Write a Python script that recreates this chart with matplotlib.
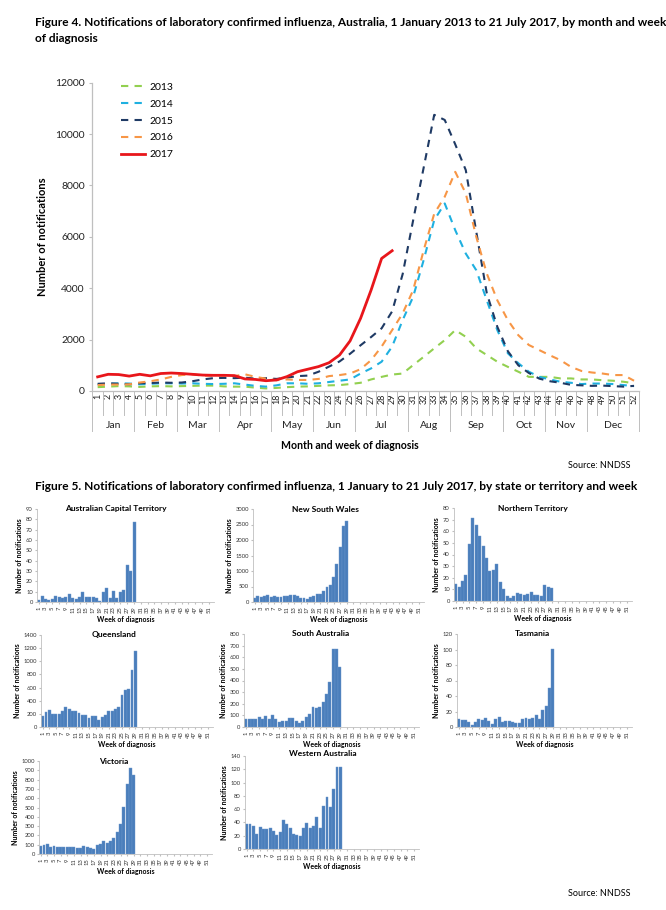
import matplotlib
matplotlib.use('Agg')
import matplotlib.pyplot as plt
import matplotlib.transforms as mtransforms
import numpy as np

plt.rcParams['font.family'] = ['Lato', 'DejaVu Sans']

# ---------------- Figure 4 data ----------------
weeks = np.arange(1, 53)
months = ['Jan', 'Feb', 'Mar', 'Apr', 'May', 'Jun', 'Jul', 'Aug', 'Sep', 'Oct', 'Nov', 'Dec']
weeks_in_month = [4, 4, 4, 5, 4, 4, 5, 4, 5, 4, 4, 5]

y2013 = [150, 170, 190, 180, 160, 180, 190, 180, 190, 200, 210, 210, 180, 170, 170, 130, 100, 120,
         150, 170, 180, 200, 220, 230, 270, 320, 450, 550, 640, 680, 1010, 1330, 1660, 1980, 2370, 2110,
         1660, 1400, 1140, 940, 750, 550, 550, 550, 490, 490, 450, 450, 420, 400, 360, 300]
y2014 = [250, 280, 300, 290, 260, 280, 300, 300, 290, 300, 280, 270, 280, 300, 250, 200, 170, 220,
         300, 300, 280, 300, 350, 400, 450, 680, 880, 1140, 1730, 2760, 3670, 5100, 6650, 7300, 6260, 5350,
         4700, 3530, 2370, 1470, 1080, 750, 550, 450, 360, 320, 270, 290, 290, 270, 230, 190]
y2015 = [280, 300, 280, 260, 300, 310, 330, 320, 330, 380, 450, 500, 510, 500, 520, 480, 500, 470,
         520, 580, 600, 750, 950, 1150, 1450, 1780, 2100, 2440, 3100, 4550, 6650, 8700, 10750, 10550, 9600, 8600,
         6200, 3800, 2500, 1550, 1000, 700, 480, 380, 320, 240, 220, 200, 210, 190, 170, 200]
y2016 = [230, 250, 250, 260, 330, 380, 450, 550, 620, 650, 600, 600, 600, 580, 650, 550, 480, 420,
         450, 430, 430, 470, 580, 620, 680, 850, 1200, 1730, 2370, 3020, 3930, 5480, 6900, 7560, 8530, 7690,
         6000, 4570, 3530, 2760, 2170, 1790, 1590, 1390, 1200, 940, 780, 720, 680, 620, 620, 400]
y2017 = [550, 650, 640, 580, 650, 590, 680, 700, 680, 650, 620, 610, 610, 600, 470, 450, 400, 430,
         560, 750, 850, 950, 1100, 1400, 1950, 2830, 3930, 5160, 5460]

# ---------------- Figure 5 data ----------------
states = ['Australian Capital Territory', 'New South Wales', 'Northern Territory',
          'Queensland', 'South Australia', 'Tasmania', 'Victoria', 'Western Australia']
state_counts = {
    'Australian Capital Territory': [2, 6, 3, 2, 3, 6, 5, 4, 5, 8, 4, 3, 5, 10, 5, 5, 5, 4, 1, 10,
                                     14, 4, 11, 4, 10, 12, 36, 30, 77],
    'New South Wales': [120, 180, 170, 200, 220, 150, 180, 175, 150, 190, 190, 220, 240, 180, 130, 120,
                        110, 160, 180, 260, 260, 350, 500, 560, 820, 1210, 1780, 2450, 2620],
    'Northern Territory': [15, 12, 17, 22, 49, 71, 65, 56, 47, 37, 26, 27, 32, 16, 10, 4, 3, 4, 7, 6,
                           5, 6, 8, 5, 5, 4, 14, 12, 11],
    'Queensland': [160, 230, 260, 200, 195, 200, 250, 300, 270, 245, 245, 210, 180, 180, 135, 170, 160,
                   110, 155, 180, 245, 250, 275, 310, 490, 560, 580, 860, 1150],
    'South Australia': [65, 72, 68, 65, 85, 65, 95, 70, 105, 65, 45, 55, 55, 80, 75, 50, 35, 55, 90,
                        110, 170, 160, 170, 215, 285, 390, 670, 670, 520],
    'Tasmania': [10, 9, 9, 7, 2, 6, 10, 9, 11, 8, 4, 10, 13, 7, 8, 8, 7, 5, 5, 10, 11, 10, 12, 15, 10,
                 22, 27, 50, 101],
    'Victoria': [85, 100, 110, 75, 90, 75, 70, 75, 80, 75, 70, 60, 65, 85, 80, 65, 55, 100, 110, 145,
                 120, 135, 170, 240, 320, 510, 750, 930, 845],
    'Western Australia': [38, 37, 35, 23, 33, 30, 30, 32, 27, 21, 25, 44, 38, 31, 22, 21, 19, 32, 39,
                          31, 35, 48, 31, 65, 79, 63, 91, 123, 123],
}
state_ymax = [90, 3000, 80, 1400, 800, 120, 1000, 140]
state_ystep = [10, 500, 10, 200, 100, 20, 100, 20]

W, H = 666, 910
fig = plt.figure(figsize=(W / 100, H / 100), dpi=100)


def px_axes(left, top, right, bottom):
    return fig.add_axes([left / W, 1 - bottom / H, (right - left) / W, (bottom - top) / H])


def fx(x):
    return x / W


def fy(y):
    return 1 - y / H


grey = '#bfbfbf'

# ---------------- Figure 4 ----------------
fig.text(fx(35), fy(22), 'Figure 4. Notifications of laboratory confirmed influenza, Australia, 1 January 2013 to 21 July 2017, by month and week',
         fontsize=8.6, fontweight='bold', va='center')
fig.text(fx(35), fy(39), 'of diagnosis', fontsize=8.6, fontweight='bold', va='center')

ax = px_axes(92.4, 82.7, 639.3, 391)
series = [('2013', y2013, '#92d050'), ('2014', y2014, '#1fb0e0'), ('2015', y2015, '#1f3a64'),
          ('2016', y2016, '#f79646')]
for name, vals, col in series:
    ax.plot(weeks[:len(vals)], vals, color=col, lw=1.5, dashes=(3.5, 3), label=name)
ax.plot(weeks[:len(y2017)], y2017, color='#e8161b', lw=2.0, label='2017')

ax.set_xlim(0.5, 52.5)
ax.set_ylim(0, 12000)
ax.set_yticks(np.arange(0, 12001, 2000))
ax.tick_params(axis='y', labelsize=7.5, length=2.5, color=grey, pad=3, labelcolor='#222222')
ax.set_xticks(weeks)
ax.set_xticklabels([str(w) for w in weeks], rotation=90, fontsize=6.5, color='#222222')
ax.tick_params(axis='x', length=0, pad=2)
for s in ['top', 'right']:
    ax.spines[s].set_visible(False)
for s in ['left', 'bottom']:
    ax.spines[s].set_color(grey)
    ax.spines[s].set_linewidth(0.9)

# two level category axis: week separators, month separators and month names
trans = mtransforms.blended_transform_factory(ax.transData, ax.transAxes)
axh = 391 - 82.7
for b in np.arange(0.5, 53, 1.0):
    ax.plot([b, b], [0, -24 / axh], transform=trans, color=grey, lw=0.7, clip_on=False)
bounds = np.concatenate([[0], np.cumsum(weeks_in_month)]) + 0.5
for b in bounds:
    ax.plot([b, b], [0, -40 / axh], transform=trans, color=grey, lw=0.7, clip_on=False)
for i, m in enumerate(months):
    ax.text((bounds[i] + bounds[i + 1]) / 2, -34 / axh, m, transform=trans, ha='center', va='center',
            fontsize=7.5, color='#222222')

ax.set_ylabel('Number of notifications', fontsize=8, fontweight='bold', labelpad=5)
fig.text(fx(350), fy(445), 'Month and week of diagnosis', fontsize=7.6, fontweight='bold', ha='center', va='center')
fig.text(fx(630), fy(466), 'Source: NNDSS', fontsize=6.5, ha='right', va='center')

leg = ax.legend(loc='upper left', bbox_to_anchor=(0.035, 1.03), frameon=False, fontsize=7.5,
                handlelength=2.3, labelspacing=0.72, handletextpad=0.4)

# ---------------- Figure 5 ----------------
fig.text(fx(35), fy(487), 'Figure 5. Notifications of laboratory confirmed influenza, 1 January to 21 July 2017, by state or territory and week',
         fontsize=8.6, fontweight='bold', va='center')

boxes = [(37, 509, 214, 602), (253, 509, 424, 602), (454, 508, 632, 601),
         (41, 635, 213, 727), (244, 634, 419, 727), (457, 634, 632, 727),
         (39, 761, 212, 854), (245, 756, 419, 849)]
title_pos = [(116, 509), (325, 509), (533, 508), (114, 634), (321, 634), (532, 634), (114, 761), (323, 753)]

for i, st in enumerate(states):
    a = px_axes(*boxes[i])
    vals = state_counts[st]
    a.bar(np.arange(1, len(vals) + 1), vals, width=0.88, color='#4a7ebb', edgecolor='#6b96cc', linewidth=0.3)
    a.set_xlim(0.5, 52.5)
    a.set_ylim(0, state_ymax[i])
    a.set_yticks(np.arange(0, state_ymax[i] + 1, state_ystep[i]))
    a.set_xticks(np.arange(1, 52, 2))
    a.set_xticklabels([str(w) for w in range(1, 52, 2)], rotation=90)
    a.tick_params(labelsize=4.2, length=1.5, color=grey, pad=1.5, labelcolor='#333333')
    for s in ['top', 'right']:
        a.spines[s].set_visible(False)
    for s in ['left', 'bottom']:
        a.spines[s].set_color(grey)
        a.spines[s].set_linewidth(0.6)
    a.set_xlabel('Week of diagnosis', fontsize=5, fontweight='bold', labelpad=2)
    a.set_ylabel('Number of notifications', fontsize=5, fontweight='bold', labelpad=2)
    fig.text(fx(title_pos[i][0]), fy(title_pos[i][1]), st, fontsize=6, fontweight='bold',
             ha='center', va='center')

fig.text(fx(630), fy(893), 'Source: NNDSS', fontsize=6.5, ha='right', va='center')

fig.savefig('out.png', dpi=100, facecolor='white')
